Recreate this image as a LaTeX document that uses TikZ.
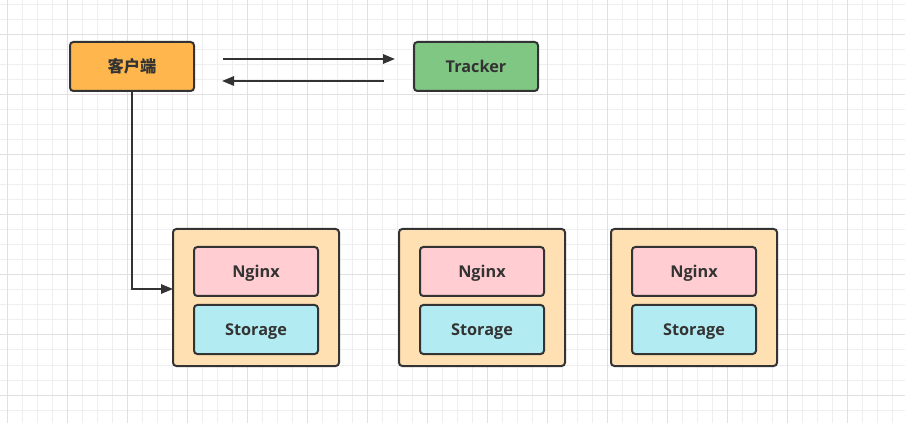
\documentclass[tikz,border=0pt]{standalone}
\usepackage{fontspec}
\setmainfont{Open Sans}
\newfontfamily\cjk{Noto Sans CJK SC}
\usetikzlibrary{arrows.meta}
\definecolor{gridminor}{HTML}{EFEFEF}
\definecolor{gridmajor}{HTML}{E0E0E0}
\definecolor{edge}{HTML}{333333}
\definecolor{clientfill}{HTML}{FFB74D}
\definecolor{trackerfill}{HTML}{81C784}
\definecolor{groupfill}{HTML}{FFE0B2}
\definecolor{nginxfill}{HTML}{FFCDD2}
\definecolor{storagefill}{HTML}{B2EBF2}
\tikzset{
  box/.style={draw=edge, line width=1.5pt, rounded corners=2.5pt, inner sep=0pt, outer sep=0pt,
    font=\fontsize{12.2}{14}\selectfont\bfseries, text=edge, anchor=north west,
    text height=9.5pt, text depth=0.8pt},
  conn/.style={draw=edge, line width=1.5pt, -{Triangle[length=9pt,width=7pt]}},
}
\begin{document}
\begin{tikzpicture}[x=0.75pt,y=-0.75pt]
\useasboundingbox (0,0) rectangle (905,423);
\fill[white] (0,0) rectangle (905,423);
% grid
\foreach \gx in {7,22,...,907} \draw[gridminor, line width=0.75pt] (\gx,0) -- (\gx,423);
\foreach \gy in {5,20,...,425} \draw[gridminor, line width=0.75pt] (0,\gy) -- (905,\gy);
\foreach \gx in {7,67,...,907} \draw[gridmajor, line width=0.75pt] (\gx,0) -- (\gx,423);
\foreach \gy in {35,95,...,425} \draw[gridmajor, line width=0.75pt] (0,\gy) -- (905,\gy);
% top nodes
\node[box, fill=clientfill, minimum width=93pt, minimum height=36.75pt] (client) at (70,42) {\cjk\bfseries 客户端};
\node[box, fill=trackerfill, minimum width=93pt, minimum height=36.75pt] (tracker) at (414,42) {Tracker};
% groups
\foreach \i/\gx in {1/173,2/399,3/611} {
  \node[box, fill=groupfill, minimum width=124.5pt, minimum height=102.75pt] (g\i) at (\gx,229) {};
  \node[box, fill=nginxfill, minimum width=93pt, minimum height=36.75pt] (n\i) at (\gx+21,247) {Nginx};
  \node[box, fill=storagefill, minimum width=93pt, minimum height=36.75pt] (s\i) at (\gx+21,305) {Storage};
}
% arrows
\coordinate (a1) at (223,59);
\coordinate (a2) at (395,59);
\coordinate (b1) at (384,81);
\coordinate (b2) at (222,81);
\coordinate (g1in) at (173,289);
\draw[conn] (a1) -- (a2);
\draw[conn] (b1) -- (b2);
\draw[conn] (client.south) |- (g1in);
\end{tikzpicture}
\end{document}
